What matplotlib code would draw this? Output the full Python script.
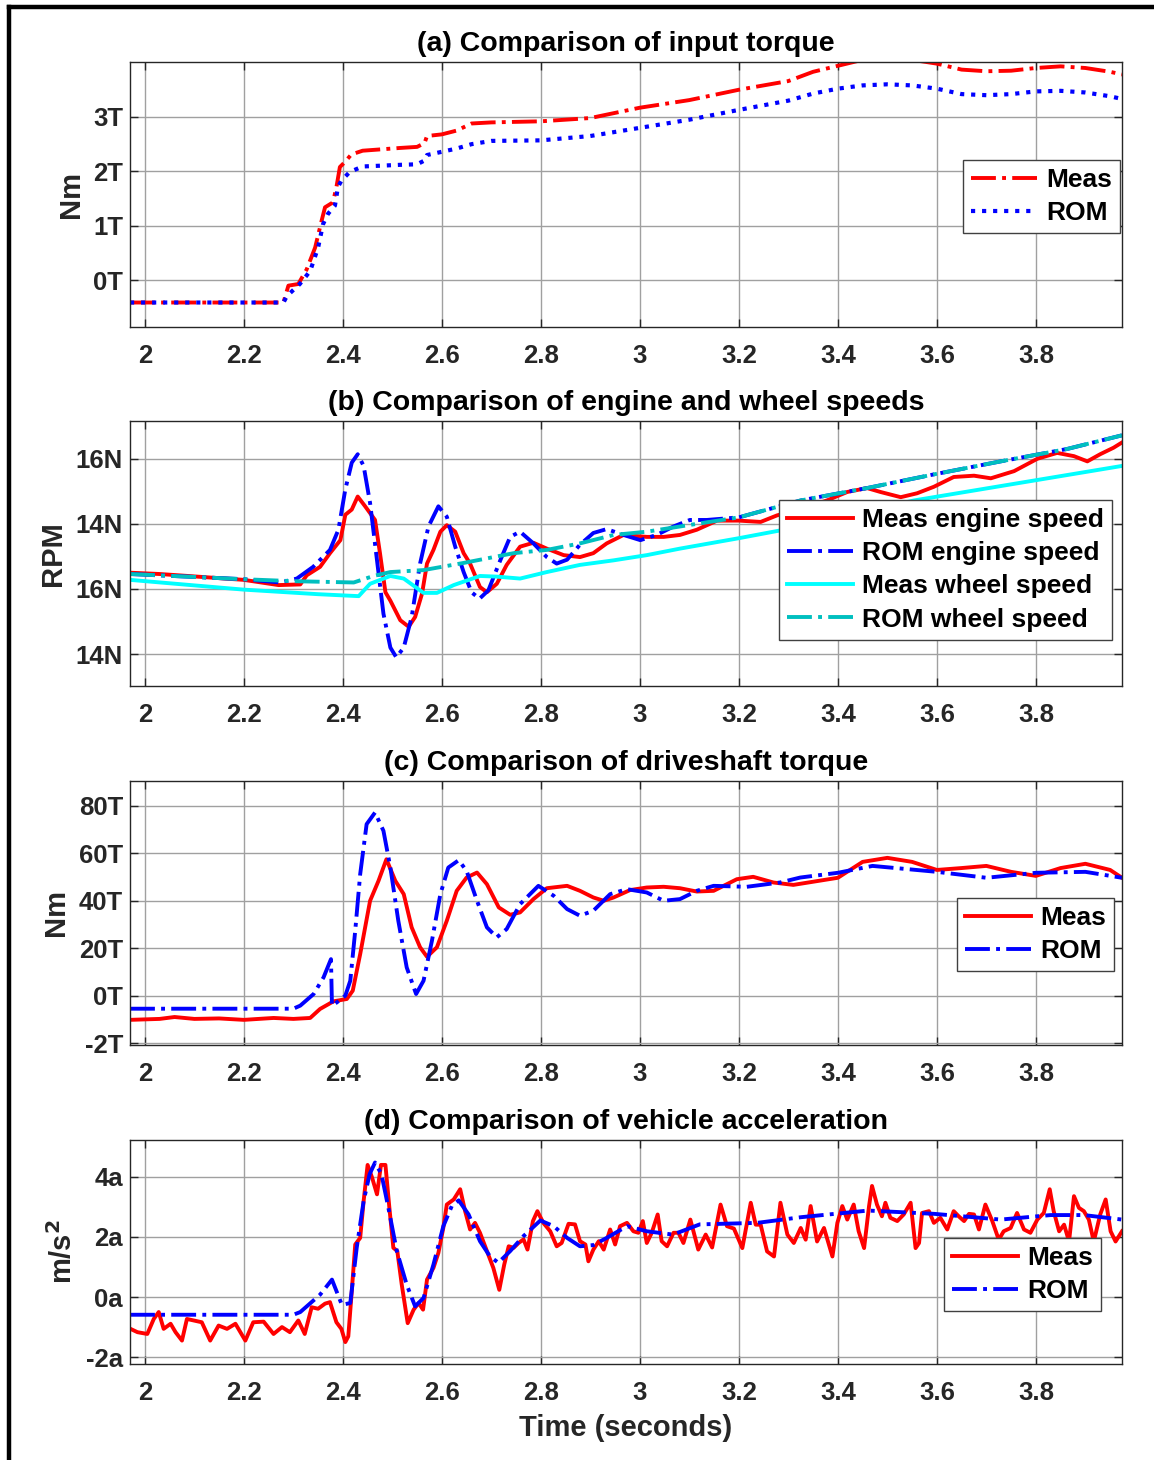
import numpy as np
import matplotlib
matplotlib.use("Agg")
import matplotlib.pyplot as plt
from matplotlib.lines import Line2D

plt.rcParams['font.family'] = ['Liberation Sans', 'DejaVu Sans']
plt.rcParams['font.weight'] = 'bold'

# ---- (a) input torque ----
a_meas_t = [1.97, 2.28, 2.29, 2.31, 2.327, 2.344, 2.357, 2.364, 2.38, 2.387, 2.394, 2.404,
            2.417, 2.44, 2.515, 2.55, 2.565, 2.57, 2.6, 2.63, 2.66, 2.7, 2.8, 2.9, 3.0,
            3.1, 3.2, 3.3, 3.35, 3.4, 3.45, 3.5, 3.55, 3.6, 3.65, 3.7, 3.75, 3.8, 3.85,
            3.9, 3.95, 3.974]
a_meas = [-0.41, -0.41, -0.1, -0.07, 0.2, 0.6, 1.09, 1.34, 1.43, 1.71, 2.08, 2.17,
          2.31, 2.38, 2.43, 2.45, 2.52, 2.65, 2.68, 2.75, 2.88, 2.9, 2.92, 2.98, 3.17,
          3.31, 3.5, 3.66, 3.83, 3.94, 4.05, 4.1, 4.05, 3.98, 3.87, 3.84, 3.85, 3.9, 3.93,
          3.9, 3.83, 3.78]
a_rom_t = [1.97, 2.28, 2.287, 2.313, 2.334, 2.35, 2.36, 2.37, 2.384, 2.39, 2.397, 2.414,
           2.44, 2.515, 2.55, 2.565, 2.57, 2.6, 2.63, 2.66, 2.7, 2.8, 2.9, 3.0, 3.1, 3.2,
           3.3, 3.35, 3.4, 3.45, 3.5, 3.55, 3.6, 3.65, 3.7, 3.75, 3.8, 3.85, 3.9, 3.95, 3.974]
a_rom = [-0.41, -0.41, -0.29, -0.07, 0.17, 0.6, 1.03, 1.22, 1.37, 1.71, 1.83, 1.99,
         2.09, 2.12, 2.13, 2.2, 2.3, 2.36, 2.42, 2.5, 2.56, 2.57, 2.65, 2.8, 2.95, 3.13,
         3.3, 3.43, 3.52, 3.58, 3.6, 3.58, 3.52, 3.42, 3.4, 3.42, 3.47, 3.48, 3.45, 3.38, 3.33]

# ---- (b) engine and wheel speeds ----
b_eng_t = [1.97, 2.03, 2.2, 2.27, 2.314, 2.327, 2.354, 2.374, 2.395, 2.405, 2.418, 2.43,
           2.445, 2.465, 2.475, 2.486, 2.496, 2.516, 2.533, 2.546, 2.56, 2.57, 2.583, 2.597,
           2.61, 2.627, 2.644, 2.657, 2.677, 2.691, 2.711, 2.731, 2.758, 2.785, 2.812, 2.846,
           2.879, 2.906, 2.933, 2.967, 3.014, 3.048, 3.081, 3.115, 3.156, 3.2, 3.244, 3.277,
           3.325, 3.378, 3.419, 3.459, 3.486, 3.527, 3.56, 3.594, 3.634, 3.675, 3.709, 3.756,
           3.803, 3.843, 3.877, 3.904, 3.93, 3.957, 3.974]
b_eng = [1.25, 1.23, 1.14, 1.06, 1.07, 1.21, 1.34, 1.55, 1.75, 2.14, 2.22, 2.42,
         2.27, 2.06, 1.55, 0.95, 0.82, 0.52, 0.42, 0.57, 0.93, 1.39, 1.6, 1.88,
         1.98, 1.88, 1.55, 1.39, 1.03, 0.95, 1.08, 1.37, 1.65, 1.71, 1.62, 1.52,
         1.49, 1.55, 1.7, 1.83, 1.8, 1.8, 1.83, 1.91, 2.05, 2.05, 2.03, 2.13,
         2.23, 2.36, 2.49, 2.55, 2.49, 2.41, 2.47, 2.57, 2.72, 2.74, 2.7, 2.81,
         3.0, 3.09, 3.04, 2.96, 3.07, 3.17, 3.25]
b_rom_eng_t = [1.97, 2.2, 2.273, 2.307, 2.34, 2.374, 2.391, 2.405, 2.418, 2.43, 2.442, 2.455,
               2.469, 2.482, 2.496, 2.508, 2.523, 2.539, 2.556, 2.573, 2.593, 2.61, 2.627,
               2.644, 2.66, 2.676, 2.694, 2.718, 2.738, 2.758, 2.785, 2.812, 2.832, 2.853,
               2.879, 2.906, 2.933, 2.967, 3.001, 3.034, 3.068, 3.101, 3.135, 3.2, 3.325,
               3.459, 3.594, 3.729, 3.863, 3.974]
b_rom_eng = [1.23, 1.15, 1.1, 1.16, 1.34, 1.6, 1.91, 2.53, 2.94, 3.07, 2.89, 2.32,
             1.44, 0.62, 0.1, -0.05, 0.1, 0.57, 1.39, 1.96, 2.27, 2.11, 1.65,
             1.26, 0.95, 0.85, 0.98, 1.44, 1.8, 1.88, 1.7, 1.49, 1.39, 1.45,
             1.68, 1.86, 1.92, 1.83, 1.75, 1.83, 1.96, 2.06, 2.06, 2.1, 2.36,
             2.55, 2.76, 2.96, 3.15, 3.36]
b_whl_t = [1.97, 2.2, 2.35, 2.432, 2.455, 2.496, 2.523, 2.563, 2.59, 2.624, 2.677, 2.711,
           2.758, 2.812, 2.879, 2.947, 3.014, 3.081, 3.2, 3.284, 3.554, 3.974]
b_whl = [1.14, 0.99, 0.92, 0.89, 1.08, 1.2, 1.16, 0.94, 0.94, 1.06, 1.2, 1.19,
         1.16, 1.26, 1.37, 1.44, 1.52, 1.62, 1.78, 1.9, 2.36, 2.89]
b_rom_whl_t = [1.97, 2.2, 2.3, 2.422, 2.462, 2.496, 2.563, 2.644, 2.745, 2.812, 2.879, 2.947,
               3.014, 3.081, 3.2, 3.325, 3.459, 3.594, 3.729, 3.863, 3.974]
b_rom_whl = [1.23, 1.15, 1.12, 1.1, 1.2, 1.26, 1.29, 1.4, 1.55, 1.6, 1.7, 1.83,
             1.88, 1.96, 2.1, 2.36, 2.55, 2.76, 2.96, 3.15, 3.36]

# ---- (c) driveshaft torque ----
c_meas_t = [1.97, 2.03, 2.06, 2.1, 2.15, 2.2, 2.26, 2.3, 2.334, 2.354, 2.381, 2.408, 2.42,
            2.435, 2.455, 2.472, 2.488, 2.506, 2.523, 2.539, 2.556, 2.57, 2.59, 2.61, 2.63,
            2.65, 2.671, 2.691, 2.715, 2.738, 2.758, 2.785, 2.812, 2.853, 2.879, 2.906, 2.927,
            2.947, 2.98, 3.014, 3.048, 3.081, 3.115, 3.149, 3.196, 3.229, 3.27, 3.31, 3.4,
            3.45, 3.5, 3.55, 3.6, 3.65, 3.7, 3.75, 3.8, 3.85, 3.9, 3.95, 3.974]
c_meas = [-10.2, -9.8, -9.0, -9.8, -9.6, -10.2, -9.4, -9.8, -9.4, -5.6, -2.4, -1.4, 2.1,
          17.5, 40.0, 48.4, 57.5, 48.4, 42.8, 28.8, 20.4, 16.4, 20.4, 31.6, 44.2,
          49.8, 51.9, 47.0, 37.2, 34.1, 35.1, 40.7, 45.3, 46.3, 44.2, 41.4, 40.0,
          41.4, 44.5, 45.6, 45.9, 45.3, 43.9, 44.2, 49.1, 50.1, 47.7, 46.7, 49.7,
          56.4, 58.1, 56.4, 53.0, 53.8, 54.7, 52.2, 50.5, 53.8, 55.6, 53.0, 49.7]
c_rom_t = [1.97, 2.3, 2.314, 2.341, 2.361, 2.376, 2.378, 2.388, 2.405, 2.415, 2.425, 2.435,
           2.448, 2.465, 2.482, 2.496, 2.512, 2.529, 2.548, 2.563, 2.58, 2.597, 2.613,
           2.634, 2.65, 2.671, 2.691, 2.711, 2.731, 2.758, 2.795, 2.826, 2.853, 2.879,
           2.906, 2.94, 2.974, 3.014, 3.048, 3.081, 3.115, 3.149, 3.216, 3.283, 3.324,
           3.4, 3.47, 3.6, 3.7, 3.8, 3.9, 3.974]
c_rom = [-5.5, -5.5, -4.2, 0.7, 7.7, 15.4, -4.2, -2.8, 0.0, 6.3, 27.4, 51.2,
         72.3, 77.2, 69.5, 54.0, 31.6, 11.9, 0.7, 6.3, 23.2, 42.8, 54.0,
         57.1, 52.6, 40.0, 28.8, 24.6, 28.1, 38.6, 46.3, 42.1, 36.5, 33.7,
         35.8, 42.8, 44.9, 43.5, 40.0, 40.7, 44.2, 46.3, 45.9, 47.7, 49.8,
         51.8, 54.7, 52.2, 49.7, 51.8, 52.2, 49.7]

# ---- (d) vehicle acceleration ----
d_meas_t = [1.971, 1.985, 2.005, 2.018, 2.028, 2.038, 2.052, 2.062, 2.075, 2.085, 2.099, 2.115,
            2.132, 2.149, 2.166, 2.183, 2.203, 2.219, 2.24, 2.26, 2.277, 2.293, 2.31, 2.323,
            2.337, 2.35, 2.364, 2.374, 2.387, 2.397, 2.405, 2.411, 2.418, 2.425, 2.435, 2.442,
            2.45, 2.459, 2.469, 2.477, 2.486, 2.494, 2.502, 2.51, 2.519, 2.531, 2.543, 2.553,
            2.562, 2.57, 2.583, 2.593, 2.603, 2.61, 2.624, 2.637, 2.647, 2.657, 2.667, 2.677,
            2.691, 2.704, 2.716, 2.726, 2.735, 2.745, 2.755, 2.765, 2.773, 2.784, 2.793, 2.805,
            2.819, 2.832, 2.842, 2.856, 2.869, 2.879, 2.89, 2.896, 2.906, 2.917, 2.927, 2.94,
            2.95, 2.96, 2.974, 2.987, 2.997, 3.006, 3.014, 3.024, 3.036, 3.044, 3.055, 3.068,
            3.078, 3.088, 3.102, 3.118, 3.133, 3.146, 3.163, 3.176, 3.19, 3.207, 3.224, 3.234,
            3.244, 3.257, 3.271, 3.284, 3.298, 3.311, 3.325, 3.335, 3.345, 3.358, 3.372, 3.389,
            3.399, 3.409, 3.419, 3.432, 3.442, 3.453, 3.463, 3.469, 3.479, 3.489, 3.496, 3.506,
            3.52, 3.533, 3.547, 3.557, 3.564, 3.57, 3.584, 3.594, 3.607, 3.621, 3.634, 3.644,
            3.655, 3.665, 3.675, 3.685, 3.698, 3.712, 3.725, 3.735, 3.749, 3.762, 3.776, 3.789,
            3.803, 3.816, 3.828, 3.836, 3.847, 3.857, 3.867, 3.877, 3.887, 3.897, 3.907, 3.917,
            3.93, 3.941, 3.951, 3.961, 3.974]
d_meas = [-1.06, -1.17, -1.23, -0.73, -0.5, -1.06, -0.89, -1.17, -1.45, -0.73, -0.78, -0.84,
          -1.45, -0.95, -1.06, -0.89, -1.45, -0.84, -0.82, -1.23, -1.0, -1.17, -0.78, -1.23,
          -0.34, -0.39, -0.22, -0.17, -0.84, -1.06, -1.5, -1.31, 0.19, 1.75, 1.97, 3.2,
          4.4, 3.98, 3.42, 4.4, 4.4, 2.97, 1.64, 1.53, 0.41, -0.87, -0.42, -0.2,
          -0.42, 0.58, 0.97, 1.47, 2.31, 3.08, 3.25, 3.59, 2.86, 2.25, 2.47, 2.14,
          1.53, 0.97, 0.24, 1.08, 1.69, 1.64, 1.8, 1.92, 1.58, 2.53, 2.86, 2.47,
          2.19, 1.69, 1.8, 2.44, 2.42, 1.86, 1.75, 1.19, 1.58, 1.86, 1.58, 2.25,
          1.75, 2.36, 2.47, 2.19, 2.14, 2.53, 1.8, 2.14, 2.75, 1.86, 1.69, 2.14,
          2.14, 1.8, 2.58, 1.58, 2.08, 1.65, 3.08, 2.36, 2.28, 1.63, 3.14, 2.41,
          2.41, 1.52, 1.35, 3.14, 2.08, 1.8, 2.3, 1.91, 3.03, 1.85, 2.3, 1.35,
          2.47, 3.03, 2.58, 3.08, 2.19, 1.63, 3.03, 3.7, 3.08, 2.69, 3.14, 2.64,
          2.53, 2.75, 3.14, 1.63, 1.8, 2.8, 2.86, 2.47, 2.64, 2.25, 2.86, 2.69,
          2.53, 2.77, 2.75, 2.25, 3.08, 2.53, 1.91, 2.19, 2.3, 2.8, 2.25, 2.14,
          2.58, 2.8, 3.59, 2.86, 2.19, 2.41, 1.85, 3.36, 2.97, 2.86, 2.58, 1.85,
          2.75, 3.25, 2.19, 1.85, 2.19]
d_rom_t = [1.97, 2.3, 2.314, 2.354, 2.378, 2.398, 2.415, 2.428, 2.442, 2.454, 2.465, 2.478,
           2.492, 2.509, 2.529, 2.546, 2.563, 2.583, 2.603, 2.62, 2.634, 2.654, 2.677, 2.697,
           2.714, 2.738, 2.765, 2.799, 2.826, 2.853, 2.879, 2.906, 2.933, 2.974, 3.014,
           3.067, 3.121, 3.237, 3.326, 3.461, 3.487, 3.595, 3.729, 3.83, 3.897, 3.974]
d_rom = [-0.59, -0.59, -0.5, 0.08, 0.58, -0.26, -0.2, 1.64, 3.2, 4.09, 4.48, 4.09,
         2.97, 1.53, 0.41, -0.31, -0.03, 1.08, 2.36, 3.03, 3.22, 2.75, 1.86, 1.36,
         1.14, 1.53, 2.03, 2.55, 2.36, 1.97, 1.69, 1.73, 1.97, 2.36, 2.19,
         2.08, 2.42, 2.47, 2.66, 2.88, 2.86, 2.77, 2.58, 2.73, 2.73, 2.58]

x_ticks = [2.0, 2.2, 2.4, 2.6, 2.8, 3.0, 3.2, 3.4, 3.6, 3.8]
x_tick_labels = ['2', '2.2', '2.4', '2.6', '2.8', '3', '3.2', '3.4', '3.6', '3.8']

RED = '#ff0000'
BLUE = '#0000ff'
CYAN = '#00ffff'
TEAL = '#00bfbf'
TXT = '#262626'
LW = 2.8

W, H = 1154, 1460
fig = plt.figure(figsize=(W / 100, H / 100), dpi=100)


def px_axes(left, top, right, bottom):
    return fig.add_axes([left / W, 1 - bottom / H, (right - left) / W, (bottom - top) / H])


def style(ax, title, ylabel, yticks, ylabels, ylim):
    ax.set_xlim(1.97, 3.974)
    ax.set_ylim(*ylim)
    ax.set_xticks(x_ticks)
    ax.set_xticklabels(x_tick_labels)
    ax.set_yticks(yticks)
    ax.set_yticklabels(ylabels)
    ax.grid(True, color='#a0a0a0', linewidth=1.0)
    ax.set_axisbelow(True)
    ax.tick_params(direction='in', top=True, right=True, length=6, width=1,
                   colors=TXT, labelsize=18.5)
    ax.tick_params(axis='x', pad=12)
    ax.tick_params(axis='y', pad=5)
    for lab in ax.get_xticklabels() + ax.get_yticklabels():
        lab.set_fontweight('bold')
    for sp in ax.spines.values():
        sp.set_color(TXT)
        sp.set_linewidth(1.0)
    ax.set_title(title, fontsize=20.5, fontweight='bold', pad=8)
    ax.set_ylabel(ylabel, fontsize=21, fontweight='bold', color=TXT, labelpad=6)


def legend(ax, anchor):
    leg = ax.legend(loc='upper right', bbox_to_anchor=anchor, borderaxespad=0,
                    fancybox=False, framealpha=1, edgecolor='#404040',
                    prop={'size': 19, 'weight': 'bold'}, handlelength=2.5,
                    handletextpad=0.35, borderpad=0.3, labelspacing=0.35)
    leg.get_frame().set_linewidth(1.0)


# (a)
ax = px_axes(130, 62, 1122, 327)
ax.plot(a_meas_t, a_meas, color=RED, ls='-.', lw=LW, label='Meas')
ax.plot(a_rom_t, a_rom, color=BLUE, ls=':', lw=3.0, label='ROM')
style(ax, '(a) Comparison of input torque', 'Nm', [0, 1, 2, 3],
      ['0T', '1T', '2T', '3T'], (-0.86, 4.01))
legend(ax, (0.998, 0.630))

# (b)
ax = px_axes(130, 421, 1122, 686)
ax.plot(b_eng_t, b_eng, color=RED, ls='-', lw=LW, label='Meas engine speed')
ax.plot(b_rom_eng_t, b_rom_eng, color=BLUE, ls='-.', lw=LW, label='ROM engine speed')
ax.plot(b_whl_t, b_whl, color=CYAN, ls='-', lw=LW, label='Meas wheel speed')
ax.plot(b_rom_whl_t, b_rom_whl, color=TEAL, ls='-.', lw=LW, label='ROM wheel speed')
style(ax, '(b) Comparison of engine and wheel speeds', 'RPM', [0, 1, 2, 3],
      ['14N', '16N', '14N', '16N'], (-0.49, 3.58))
legend(ax, (0.990, 0.702))

# (c)
ax = px_axes(130, 781, 1122, 1045)
ax.plot(c_meas_t, c_meas, color=RED, ls='-', lw=LW, label='Meas')
ax.plot(c_rom_t, c_rom, color=BLUE, ls='-.', lw=LW, label='ROM')
style(ax, '(c) Comparison of driveshaft torque', 'Nm', [-20, 0, 20, 40, 60, 80],
      ['-2T', '0T', '20T', '40T', '60T', '80T'], (-20.8, 90.5))
legend(ax, (0.992, 0.557))

# (d)
ax = px_axes(130, 1140, 1122, 1364)
ax.plot(d_meas_t, d_meas, color=RED, ls='-', lw=LW, label='Meas')
ax.plot(d_rom_t, d_rom, color=BLUE, ls='-.', lw=LW, label='ROM')
style(ax, '(d) Comparison of vehicle acceleration', 'm/s$^2$', [-2, 0, 2, 4],
      ['-2a', '0a', '2a', '4a'], (-2.23, 5.23))
ax.set_xlabel('Time (seconds)', fontsize=21, fontweight='bold', color=TXT, labelpad=7)
legend(ax, (0.979, 0.5625))

# outer frame (left and top edges visible)
fig.add_artist(Line2D([9 / W, 9 / W], [0, 1 - 7 / H], transform=fig.transFigure,
                      color='black', lw=3.2))
fig.add_artist(Line2D([9 / W, 1], [1 - 7 / H, 1 - 7 / H], transform=fig.transFigure,
                      color='black', lw=3.2))

fig.savefig('out.png', dpi=100)
